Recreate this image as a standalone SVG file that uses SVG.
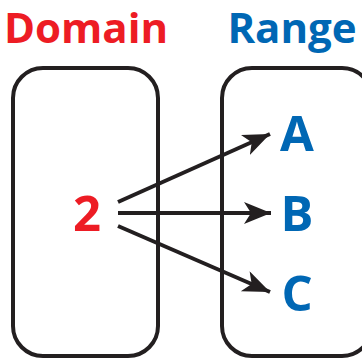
<svg xmlns="http://www.w3.org/2000/svg" width="362" height="358" viewBox="0 0 362 358">
<style>
.box{fill:none;stroke:#231f20;stroke-width:4}
.ln{stroke:#231f20;stroke-width:4;fill:none}
.t{font-family:"Open Sans","Noto Sans",sans-serif;font-weight:bold}
.red{fill:#ed1c24}
.blue{fill:#0067b4}
</style>
<defs>
<marker id="ah" markerUnits="userSpaceOnUse" markerWidth="30" markerHeight="24" refX="27" refY="11" orient="auto" viewBox="0 0 30 24">
<path d="M0,0 L27,11 L0,22 L7,11 Z" fill="#231f20"/>
</marker>
</defs>
<g id="domain-title"><text class="t red" x="86" y="43" font-size="42" text-anchor="middle">Domain</text></g>
<g id="range-title"><text class="t blue" x="292" y="43" font-size="42" text-anchor="middle">Range</text></g>
<g id="domain"><rect class="box" x="13" y="68" width="145" height="288" rx="30"/><text class="t red" x="87" y="231" font-size="49" text-anchor="middle">2</text></g>
<g id="range"><rect class="box" x="222" y="68" width="150" height="288" rx="30"/>
<text class="t blue" x="297" y="151" font-size="49" text-anchor="middle">A</text>
<text class="t blue" x="297" y="231" font-size="49" text-anchor="middle">B</text>
<text class="t blue" x="297" y="311" font-size="49" text-anchor="middle">C</text></g>
<g id="connectors">
<line class="ln" x1="118" y1="202" x2="270" y2="134" marker-end="url(#ah)"/>
<line class="ln" x1="118" y1="213" x2="271" y2="213" marker-end="url(#ah)"/>
<line class="ln" x1="118" y1="226" x2="270" y2="292" marker-end="url(#ah)"/>
</g>
</svg>
